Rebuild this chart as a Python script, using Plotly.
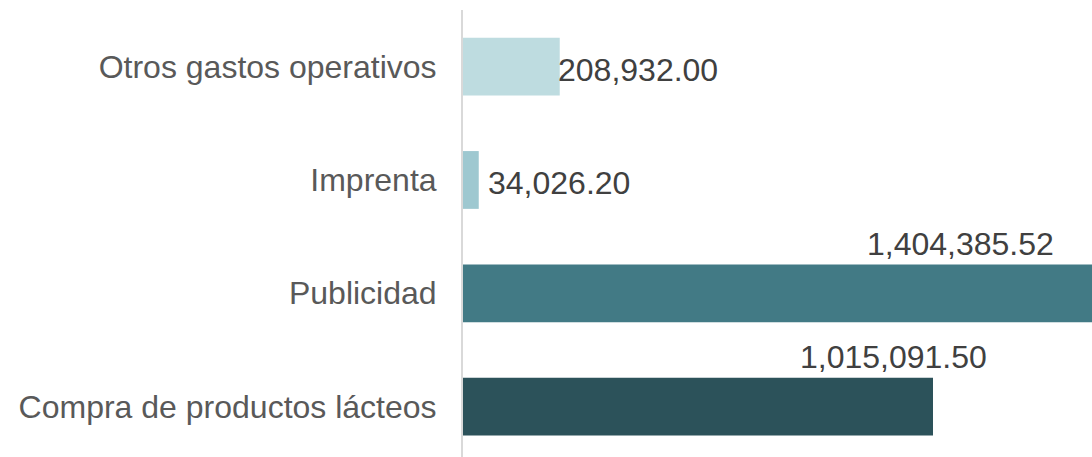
import plotly.graph_objects as go

categories = ["Compra de productos lácteos", "Publicidad", "Imprenta", "Otros gastos operativos"]
values = [1015091.50, 1404385.52, 34026.20, 208932.00]
labels = ["1,015,091.50", "1,404,385.52", "34,026.20", "208,932.00"]
colors = ["#2C525A", "#427A85", "#9EC8D0", "#BEDCE0"]

FONT = "Liberation Sans"
XMAX = 1358500

fig = go.Figure()
fig.add_trace(go.Bar(
    y=categories, x=values, orientation="h",
    marker=dict(color=colors, line=dict(width=0)),
    width=0.51, hoverinfo="skip",
))

# label placement styles: above-bar labels for the long bars, beside for short ones
label_style = [
    dict(xanchor="center", xshift=-40, yshift=50),
    dict(xanchor="center", xshift=-132, yshift=49),
    dict(xanchor="left", xshift=7, yshift=-3),
    dict(xanchor="left", xshift=-4, yshift=-3),
]
for cat, v, lab, st in zip(categories, values, labels, label_style):
    fig.add_annotation(
        x=min(v, XMAX), y=cat, text=lab, showarrow=False,
        font=dict(family=FONT, size=32, color="#404040"),
        yanchor="middle", **st,
    )

fig.update_layout(
    width=1092, height=457,
    margin=dict(l=463, r=0, t=10, b=0, autoexpand=False),
    paper_bgcolor="white", plot_bgcolor="white",
    showlegend=False, bargap=0.49,
    xaxis=dict(range=[0, XMAX], visible=False, showgrid=False, zeroline=False,
               automargin=False),
    yaxis=dict(
        categoryorder="array", categoryarray=categories,
        range=[-0.445, 3.5], automargin=False,
        showline=True, linecolor="#D9D9D9", linewidth=2,
        showgrid=False, zeroline=False, ticks="",
        ticklabelstandoff=18,
        tickfont=dict(family=FONT, size=32, color="#595959"),
    ),
)

fig.write_html(
    "out.html",
    config={"displayModeBar": False},
    post_script="document.body.style.margin='0';document.body.style.overflow='hidden';",
)
